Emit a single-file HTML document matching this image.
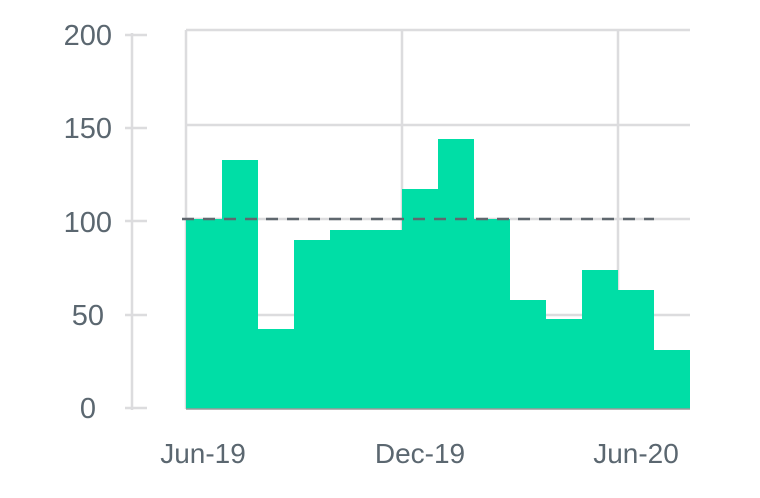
<!DOCTYPE html>
<html><head><meta charset="utf-8"><style>
html,body{margin:0;padding:0;background:#fff;}
svg{display:block;}
text{font-family:"Liberation Sans",sans-serif;fill:#5b6770;}
</style></head><body>
<svg width="760" height="498" viewBox="0 0 760 498">
<g stroke="#dcdcde" stroke-width="2.5" fill="none">
<line x1="186" y1="30" x2="690" y2="30"/>
<line x1="186" y1="125" x2="690" y2="125"/>
<line x1="186" y1="219" x2="690" y2="219"/>
<line x1="186" y1="315" x2="690" y2="315"/>
<line x1="186" y1="30" x2="186" y2="409"/>
<line x1="402" y1="30" x2="402" y2="409"/>
<line x1="618" y1="30" x2="618" y2="409"/>
<line x1="132" y1="33" x2="132" y2="410"/>
<line x1="125" y1="35" x2="147" y2="35"/>
<line x1="125" y1="128" x2="147" y2="128"/>
<line x1="125" y1="221" x2="147" y2="221"/>
<line x1="125" y1="315" x2="147" y2="315"/>
<line x1="125" y1="408" x2="147" y2="408"/>
</g>
<g fill="#00dea6">
<rect x="186" y="219" width="36" height="190"/>
<rect x="222" y="160" width="36" height="249"/>
<rect x="258" y="329" width="36" height="80"/>
<rect x="294" y="240" width="36" height="169"/>
<rect x="330" y="230" width="36" height="179"/>
<rect x="366" y="230" width="36" height="179"/>
<rect x="402" y="189" width="36" height="220"/>
<rect x="438" y="139" width="36" height="270"/>
<rect x="474" y="219" width="36" height="190"/>
<rect x="510" y="300" width="36" height="109"/>
<rect x="546" y="319" width="36" height="90"/>
<rect x="582" y="270" width="36" height="139"/>
<rect x="618" y="290" width="36" height="119"/>
<rect x="654" y="350" width="36" height="59"/>
</g>
<line x1="186" y1="409" x2="690" y2="409" stroke="#999" stroke-width="1.5"/>
<line x1="182" y1="219" x2="654" y2="219" stroke="#5f676e" stroke-width="2.5" stroke-dasharray="12,9"/>
<g font-size="29" text-anchor="end">
<text x="112" y="45">200</text>
<text x="112" y="138">150</text>
<text x="112" y="232">100</text>
<text x="104" y="325">50</text>
<text x="96" y="418">0</text>
</g>
<g font-size="28" text-anchor="middle">
<text x="203" y="463">Jun-19</text>
<text x="420" y="463">Dec-19</text>
<text x="636" y="463">Jun-20</text>
</g>
</svg>
</body></html>
